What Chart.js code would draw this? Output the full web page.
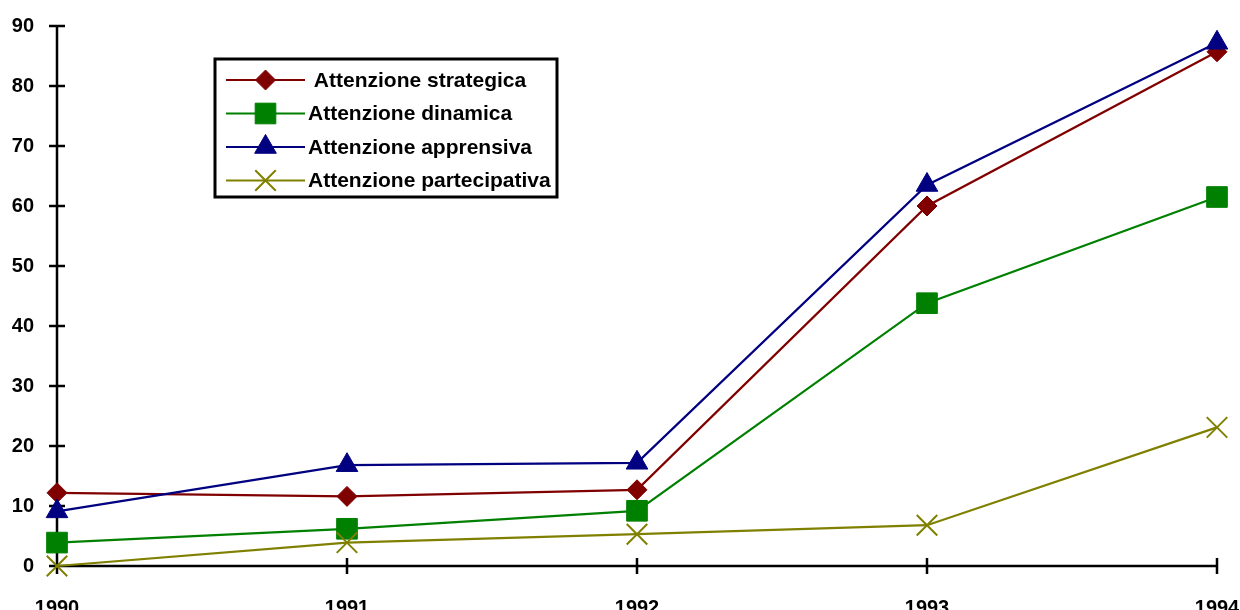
<!DOCTYPE html>
<html>
<head>
<meta charset="utf-8">
<title>Attenzione 1990-1994</title>
<script src="https://cdn.jsdelivr.net/npm/chart.js@4/dist/chart.umd.min.js"></script>
<style>
  html, body { margin: 0; padding: 0; background: #ffffff; }
  #wrap { width: 1240px; height: 610px; position: relative; }
</style>
</head>
<body>
<div id="wrap"><canvas id="chart" width="1240" height="610"></canvas></div>
<script>
// Years on the horizontal axis
const years = ['1990', '1991', '1992', '1993', '1994'];

// Series values
const strategica = [12.2, 11.6, 12.7, 60.0, 85.7];
const dinamica = [3.9, 6.2, 9.2, 43.8, 61.5];
const apprensiva = [9.1, 16.8, 17.2, 63.5, 87.2];
const partecipativa = [0, 3.9, 5.3, 6.8, 23.1];

// Series names
const seriesNames = [
  ' Attenzione strategica',
  'Attenzione dinamica',
  'Attenzione apprensiva',
  'Attenzione partecipativa'
];

// Vertical axis range
const yMin = 0;
const yMax = 90;
const yStep = 10;

const FONT_FAMILY = '"Liberation Sans", Arial, Helvetica, sans-serif';
const tickFont = { family: FONT_FAMILY, size: 20, weight: 'bold' };

function series(label, data, color, pointStyle, radius, pointBorderWidth, order) {
  return {
    label: label,
    data: data,
    borderColor: color,
    backgroundColor: color,
    borderWidth: 2.2,
    pointStyle: pointStyle,
    pointRadius: radius,
    pointHoverRadius: radius,
    pointBackgroundColor: color,
    pointBorderColor: color,
    pointBorderWidth: pointBorderWidth,
    tension: 0,
    fill: false,
    clip: false,
    order: order
  };
}

// Axis lines with ticks crossing both sides
const crossAxes = {
  id: 'crossAxes',
  beforeDatasetsDraw(chart) {
    const ctx = chart.ctx;
    const area = chart.chartArea;
    const xs = chart.scales.x;
    const ys = chart.scales.y;
    const half = 8;
    ctx.save();
    ctx.strokeStyle = '#000000';
    ctx.lineWidth = 2.5;
    ctx.lineCap = 'butt';
    ctx.beginPath();
    ctx.moveTo(area.left, area.top);
    ctx.lineTo(area.left, area.bottom);
    ctx.moveTo(area.left, area.bottom);
    ctx.lineTo(area.right, area.bottom);
    for (let i = 0; i < ys.ticks.length; i++) {
      const py = ys.getPixelForTick(i);
      ctx.moveTo(area.left - half, py);
      ctx.lineTo(area.left + half, py);
    }
    for (let i = 0; i < xs.ticks.length; i++) {
      const px = xs.getPixelForTick(i);
      ctx.moveTo(px, area.bottom - half);
      ctx.lineTo(px, area.bottom + half);
    }
    ctx.stroke();
    ctx.restore();
  }
};

// Boxed legend: line sample with the marker in the middle
const boxLegend = {
  id: 'boxLegend',
  afterDatasetsDraw(chart) {
    const ctx = chart.ctx;
    const box = { x: 215, y: 59, w: 342, h: 138 };
    const rowTop = 80;
    const rowStep = 33.5;
    const lineX0 = 226;
    const lineX1 = 305;
    const textX = 308;
    ctx.save();
    ctx.fillStyle = '#ffffff';
    ctx.fillRect(box.x, box.y, box.w, box.h);
    ctx.strokeStyle = '#000000';
    ctx.lineWidth = 3;
    ctx.strokeRect(box.x, box.y, box.w, box.h);
    chart.data.datasets.forEach((ds, i) => {
      const cy = rowTop + i * rowStep;
      ctx.strokeStyle = ds.borderColor;
      ctx.lineWidth = ds.borderWidth;
      ctx.beginPath();
      ctx.moveTo(lineX0, cy);
      ctx.lineTo(lineX1, cy);
      ctx.stroke();
      ctx.fillStyle = ds.pointBackgroundColor;
      ctx.strokeStyle = ds.pointBorderColor;
      ctx.lineWidth = ds.pointBorderWidth;
      Chart.helpers.drawPoint(ctx, {
        pointStyle: ds.pointStyle,
        radius: ds.pointRadius,
        borderWidth: ds.pointBorderWidth,
        rotation: 0
      }, (lineX0 + lineX1) / 2, cy);
      ctx.fillStyle = '#000000';
      ctx.font = 'bold 21px ' + FONT_FAMILY;
      ctx.textAlign = 'left';
      ctx.textBaseline = 'middle';
      ctx.fillText(ds.label, textX, cy + 1);
    });
    ctx.restore();
  }
};

new Chart(document.getElementById('chart'), {
  type: 'line',
  data: {
    labels: years,
    datasets: [
      series(seriesNames[0], strategica, '#800000', 'rectRot', 10, 1, 4),
      series(seriesNames[1], dinamica, '#008000', 'rect', 14.6, 1, 3),
      series(seriesNames[2], apprensiva, '#000080', 'triangle', 12.5, 1, 2),
      series(seriesNames[3], partecipativa, '#808000', 'crossRot', 14.5, 2, 1)
    ]
  },
  options: {
    responsive: false,
    animation: false,
    events: [],
    layout: { padding: { top: 26, right: 23, left: 0, bottom: 0 } },
    plugins: {
      legend: { display: false },
      tooltip: { enabled: false },
      title: { display: false }
    },
    scales: {
      x: {
        type: 'category',
        offset: false,
        grid: { display: false, drawTicks: false },
        border: { display: false },
        ticks: {
          color: '#000000',
          font: tickFont,
          padding: 30,
          maxRotation: 0,
          autoSkip: false
        },
        afterFit(scale) {
          scale.height = 44;
          scale.paddingLeft = 0;
          scale.paddingRight = 0;
        }
      },
      y: {
        type: 'linear',
        min: yMin,
        max: yMax,
        grid: { display: false, drawTicks: false },
        border: { display: false },
        ticks: {
          stepSize: yStep,
          color: '#000000',
          font: tickFont,
          padding: 23
        },
        afterFit(scale) {
          scale.width = 57;
          scale.paddingTop = 0;
          scale.paddingBottom = 0;
        }
      }
    }
  },
  plugins: [crossAxes, boxLegend]
});
</script>
</body>
</html>
